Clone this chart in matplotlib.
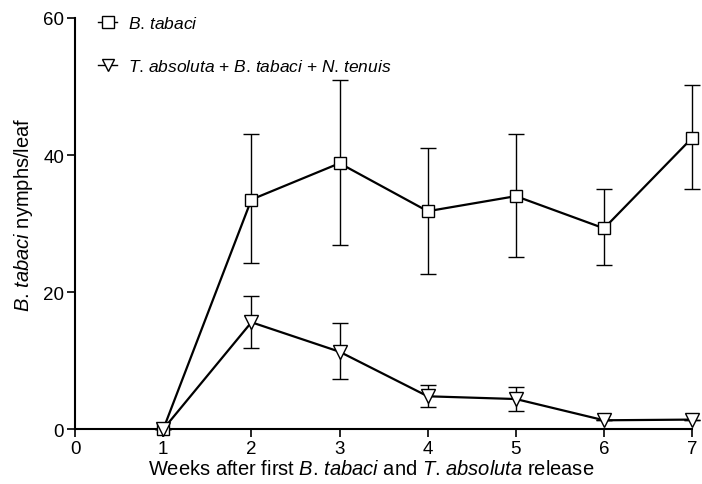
import matplotlib
matplotlib.use("Agg")
import matplotlib.pyplot as plt
from matplotlib.lines import Line2D

plt.rcParams["font.family"] = ["Liberation Sans", "DejaVu Sans"]
plt.rcParams["mathtext.fontset"] = "custom"
plt.rcParams["mathtext.rm"] = "Liberation Sans"
plt.rcParams["mathtext.it"] = "Liberation Sans:italic"

# Weeks after first release
weeks = [1, 2, 3, 4, 5, 6, 7]

# B. tabaci only
bt_mean = [0.0, 33.5, 38.8, 31.8, 34.0, 29.3, 42.5]
bt_upper = [0.0, 43.0, 51.0, 41.0, 43.0, 35.0, 50.2]
bt_lower = [0.0, 24.2, 26.8, 22.7, 25.1, 23.9, 35.0]

# T. absoluta + B. tabaci + N. tenuis
mix_mean = [0.0, 15.6, 11.3, 4.8, 4.4, 1.3, 1.4]
mix_upper = [0.0, 19.5, 15.5, 6.4, 6.1, 1.3, 1.4]
mix_lower = [0.0, 11.9, 7.3, 3.2, 2.7, 1.3, 1.4]

xticks = [0, 1, 2, 3, 4, 5, 6, 7]
yticks = [0, 20, 40, 60]

# italic species names (period kept outside mathtext to avoid its punctuation spacing)
BT = r"$\it{B}$. $\it{tabaci}$"
TA = r"$\it{T}$. $\it{absoluta}$"
NT = r"$\it{N}$. $\it{tenuis}$"


def err(mean, lo, hi):
    return [[m - l for m, l in zip(mean, lo)], [h - m for m, h in zip(mean, hi)]]


fig = plt.figure(figsize=(7.02, 4.85), dpi=100)
ax = fig.add_axes([0.107, 0.113, 0.879, 0.848])

ax.errorbar(weeks, bt_mean, yerr=err(bt_mean, bt_lower, bt_upper),
            color="black", lw=1.6, marker="s", ms=9, mfc="white", mec="black",
            mew=1.0, ecolor="black", elinewidth=1.0, capsize=6, capthick=1.0,
            clip_on=False, zorder=3)
ax.errorbar(weeks, mix_mean, yerr=err(mix_mean, mix_lower, mix_upper),
            color="black", lw=1.6, marker="v", ms=10, mfc="white", mec="black",
            mew=1.0, ecolor="black", elinewidth=1.0, capsize=6, capthick=1.0,
            clip_on=False, zorder=3)

ax.set_xlim(0, 7)
ax.set_ylim(0, 60)
ax.set_xticks(xticks)
ax.set_yticks(yticks)
ax.spines["top"].set_visible(False)
ax.spines["right"].set_visible(False)
for s in ["left", "bottom"]:
    ax.spines[s].set_linewidth(1.5)
ax.tick_params(direction="out", length=6, width=1.2, labelsize=13.5, pad=2)

ax.set_xlabel(f"Weeks after first {BT} and {TA} release", fontsize=14.5, labelpad=1)
ax.set_ylabel(f"{BT} nymphs/leaf", fontsize=14.5, labelpad=6)
ax.xaxis.label.set_x(0.48)
ax.yaxis.label.set_y(0.523)

handles = [
    Line2D([], [], color="black", lw=1.0, marker="s", ms=8, mfc="white", mec="black", mew=1.0),
    Line2D([], [], color="black", lw=1.0, marker="v", ms=9, mfc="white", mec="black", mew=1.0),
]
labels = [BT, f"{TA} + {BT} + {NT}"]
ax.legend(handles, labels, loc="upper left", bbox_to_anchor=(0.012, 1.045), frameon=False,
          fontsize=12.5, handlelength=1.1, handletextpad=0.6, labelspacing=1.55)

fig.savefig("out.png", dpi=100)
